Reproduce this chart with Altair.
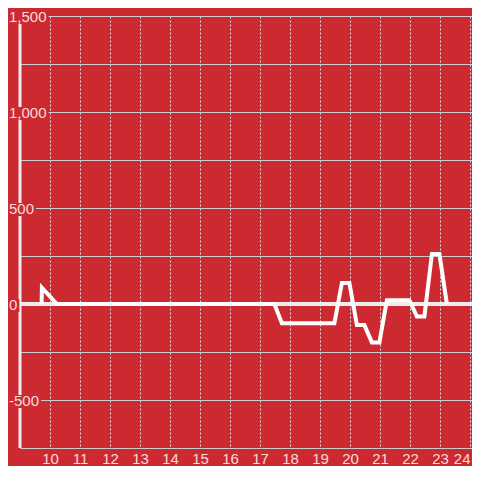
import altair as alt
import pandas as pd

# ---- data ----
times = [9.72, 9.73, 10.23, 17.48, 17.73, 19.48, 19.73, 19.98, 20.23, 20.48, 20.73,
         20.98, 21.23, 21.98, 22.23, 22.48, 22.73, 22.98, 23.23]
values = [0, 85, 0, 0, -100, -100, 110, 110, -110, -110, -200,
          -200, 20, 20, -65, -65, 260, 260, 0]
x_ticks = list(range(10, 25))
y_grid = list(range(-750, 1501, 250))
y_label_values = [1500, 1000, 500, 0, -500]
y_labels = ["1,500", "1,000", "500", "0", "-500"]

BG = "#cc2a30"
TXT = "#f5dcdc"
FONT = "Liberation Sans"

PLOT_W = 452
xs = alt.Scale(domain=[9, 9 + PLOT_W / 30], nice=False, zero=False)
ys = alt.Scale(domain=[-750, 1500], nice=False, zero=False)

line_df = pd.DataFrame({"t": times, "v": values})
lab_df = pd.DataFrame({"v": y_label_values, "lab": y_labels})

line = alt.Chart(line_df).mark_line(
    color="#ffffff", strokeWidth=4, strokeJoin="miter", strokeCap="butt"
).encode(
    x=alt.X("t:Q", scale=xs, axis=alt.Axis(
        values=x_ticks, grid=True, gridDash=[2, 2], gridColor="#dddddd",
        domain=False, ticks=False, labelFontSize=15, labelColor=TXT,
        labelFont=FONT, labelPadding=3, title=None, labelFlush=5,
        labelOverlap=False)),
    y=alt.Y("v:Q", scale=ys, axis=alt.Axis(
        values=y_grid, grid=True, gridColor="#cccccc", domain=False,
        ticks=False, labels=False, title=None)),
)

zero_rule = alt.Chart(pd.DataFrame({"v": [0]})).mark_rule(
    color="#eeeeee", strokeWidth=4, strokeCap="square"
).encode(y=alt.Y("v:Q", scale=ys))

# vertical axis line along the plot's left edge
axis_rule = alt.Chart(pd.DataFrame({"v": [1500], "v2": [-750]})).mark_rule(
    color="#eeeeee", strokeWidth=3
).encode(
    x=alt.value(0),
    y=alt.Y("v:Q", scale=ys),
    y2="v2:Q",
)

has_comma = "(indexof(datum.lab, ',') >= 0 ? 1 : 0)"
has_minus = "(indexof(datum.lab, '-') >= 0 ? 1 : 0)"
width_expr = (f"8.34 * (length(datum.lab) - {has_comma} - {has_minus})"
              f" + 4.17 * {has_comma} + 5 * {has_minus}")

boxes = alt.Chart(lab_df).transform_calculate(
    w=width_expr
).transform_calculate(
    bx="-12", bx2="-11 + datum.w + 2", yt="datum.v + 26", yb="datum.v - 42"
).mark_rect(color=BG).encode(
    x=alt.X("bx:Q", scale=None),
    x2="bx2:Q",
    y=alt.Y("yt:Q", scale=ys),
    y2="yb:Q",
)

labels = alt.Chart(lab_df).mark_text(
    align="left", baseline="middle", dy=1, fontSize=15, font=FONT, color=TXT
).encode(
    x=alt.value(-11),
    y=alt.Y("v:Q", scale=ys),
    text="lab:N",
)

chart = alt.layer(zero_rule, axis_rule, line, boxes, labels).properties(
    width=PLOT_W, height=432,
    autosize=alt.AutoSizeParams(type="none"),
    padding={"left": 12, "top": 8, "right": 0, "bottom": 18},
    background=BG,
).configure_view(stroke=None)

chart.save("out.html", embed_options={"renderer": "svg", "actions": False})
